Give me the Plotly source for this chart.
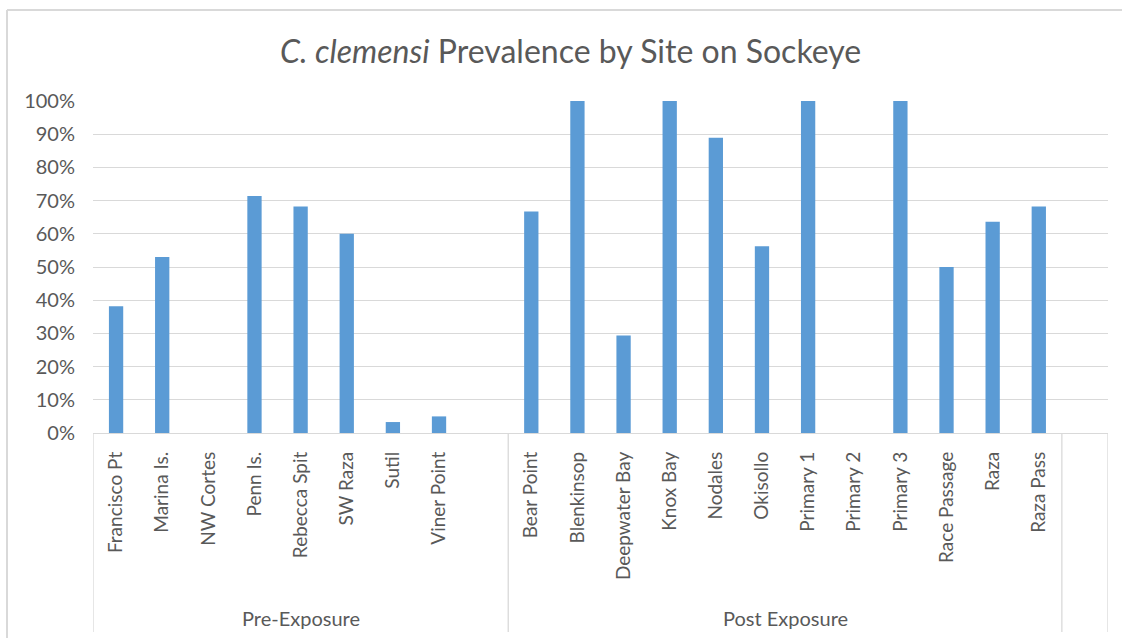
import plotly.graph_objects as go

# ---- data ----
pre_sites = ["Francisco Pt", "Marina Is.", "NW Cortes", "Penn Is.", "Rebecca Spit",
             "SW Raza", "Sutil", "Viner Point", ""]
pre_vals = [0.382, 0.530, 0.0, 0.714, 0.682, 0.600, 0.033, 0.050, None]

post_sites = ["Bear Point", "Blenkinsop", "Deepwater Bay", "Knox Bay", "Nodales",
              "Okisollo", "Primary 1", "Primary 2", "Primary 3", "Race Passage",
              "Raza", "Raza Pass"]
post_vals = [0.667, 1.0, 0.294, 1.0, 0.889, 0.5625, 1.0, 0.0, 1.0, 0.50, 0.636, 0.682]

tail_sites = [""]
tail_vals = [None]

groups = ["Pre-Exposure", "Post Exposure", ""]
group_sites = [pre_sites, post_sites, tail_sites]
group_vals = [pre_vals, post_vals, tail_vals]

y_ticks = [0, 0.1, 0.2, 0.3, 0.4, 0.5, 0.6, 0.7, 0.8, 0.9, 1.0]

# ---- build ----
labels, values = [], []
for s, v in zip(group_sites, group_vals):
    labels += s
    values += v
xs = list(range(len(labels)))

TXT = "#595959"
GRID = "#d9d9d9"
FONT = "Lato, Calibri, Carlito, sans-serif"

fig = go.Figure(go.Bar(
    x=xs, y=values,
    marker=dict(color="#5b9bd5", line=dict(width=0)),
    width=0.31,
    hoverinfo="skip",
))

W, H = 1122, 638
L, R, T, B = 93, 14, 101, 205
pw, ph = W - L - R, H - T - B

def px_x(p):
    return (p - L) / pw

def px_y(p):
    return (H - B - p) / ph

shapes = []
# chart border (top and left edges; right/bottom lie outside the picture)
shapes.append(dict(type="line", xref="paper", yref="paper",
                   x0=px_x(7), x1=px_x(W), y0=px_y(10), y1=px_y(10),
                   line=dict(color=GRID, width=2), layer="below"))
shapes.append(dict(type="line", xref="paper", yref="paper",
                   x0=px_x(7), x1=px_x(7), y0=px_y(10), y1=px_y(H),
                   line=dict(color=GRID, width=2), layer="below"))
# group dividers
edges = [-0.5]
for s in group_sites:
    edges.append(edges[-1] + len(s))
for e in edges:
    shapes.append(dict(type="line", xref="x", yref="paper",
                       x0=e, x1=e, y0=0, y1=px_y(632),
                       line=dict(color=GRID, width=1.3)))

annotations = []
for g, a, b in zip(groups, edges[:-1], edges[1:]):
    if g:
        annotations.append(dict(text=g, x=(a + b) / 2, xref="x",
                                y=px_y(618), yref="paper", showarrow=False,
                                font=dict(family=FONT, size=20, color=TXT),
                                xanchor="center", yanchor="middle"))
annotations.append(dict(text="<i>C. clemensi</i> Prevalence by Site on Sockeye",
                        x=px_x(570), xref="paper", y=px_y(50), yref="paper",
                        showarrow=False, xanchor="center", yanchor="middle",
                        font=dict(family=FONT, size=32, color=TXT)))

fig.update_layout(
    width=W, height=H,
    margin=dict(l=L, r=R, t=T, b=B, autoexpand=False),
    paper_bgcolor="white", plot_bgcolor="white",
    showlegend=False,
    shapes=shapes, annotations=annotations,
    font=dict(family=FONT, color=TXT),
)
fig.update_xaxes(
    range=[edges[0], edges[-1]],
    tickmode="array", tickvals=xs, ticktext=labels,
    tickangle=-90, tickfont=dict(family=FONT, size=19, color=TXT),
    ticks="", ticklabelstandoff=10,
    showline=True, linecolor=GRID, linewidth=1.3,
    showgrid=False, zeroline=False, fixedrange=True,
)
fig.update_yaxes(
    range=[0, 1], tickmode="array", tickvals=y_ticks,
    tickformat=".0%", tickfont=dict(family=FONT, size=20, color=TXT),
    showgrid=True, gridcolor=GRID, gridwidth=1.3,
    zeroline=False, showline=False, ticks="", ticklabelstandoff=17,
    fixedrange=True,
)

fig.write_html("out.html",
               config={"displayModeBar": False},
               post_script="document.body.style.margin='0';document.body.style.overflow='hidden';")
